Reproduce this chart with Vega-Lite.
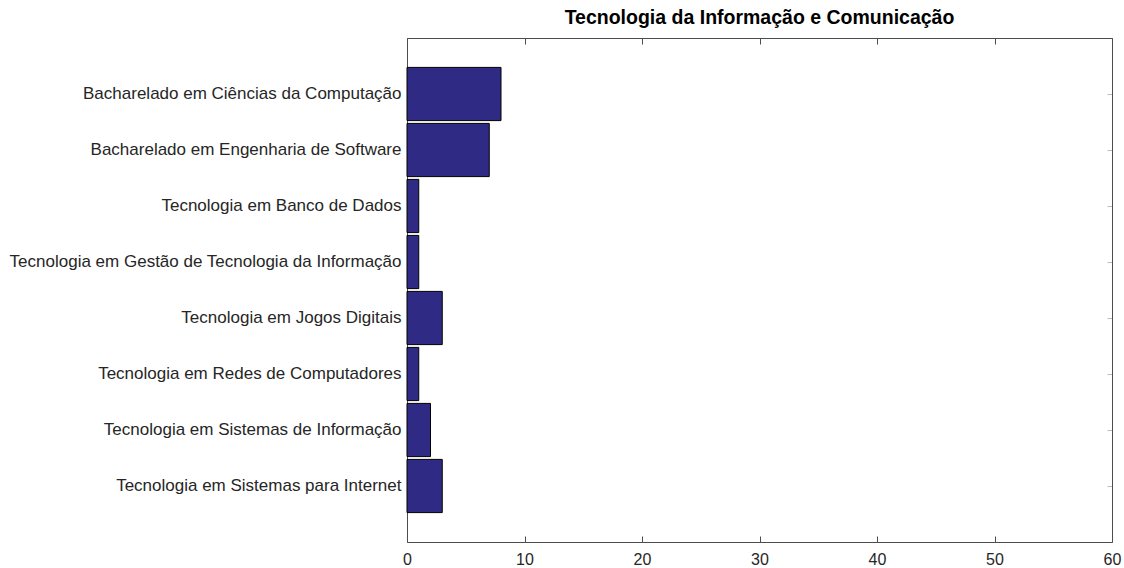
{
  "$schema": "https://vega.github.io/schema/vega-lite/v6.json",
  "width": 705,
  "height": 504,
  "autosize": "none",
  "padding": {"left": 407, "top": 38, "right": 12, "bottom": 26},
  "background": "white",
  "title": {"text": "Tecnologia da Informação e Comunicação", "font": "Liberation Sans", "fontSize": 19.5, "fontWeight": "bold", "color": "#000000", "anchor": "middle", "offset": 9},
  "config": {"view": {"stroke": null}},
  "data": {"values": [
    {"curso": "Bacharelado em Ciências da Computação", "n": 8},
    {"curso": "Bacharelado em Engenharia de Software", "n": 7},
    {"curso": "Tecnologia em Banco de Dados", "n": 1},
    {"curso": "Tecnologia em Gestão de Tecnologia da Informação", "n": 1},
    {"curso": "Tecnologia em Jogos Digitais", "n": 3},
    {"curso": "Tecnologia em Redes de Computadores", "n": 1},
    {"curso": "Tecnologia em Sistemas de Informação", "n": 2},
    {"curso": "Tecnologia em Sistemas para Internet", "n": 3}
  ]},
  "resolve": {"axis": {"x": "independent", "y": "independent"}},
  "layer": [
    {
      "mark": {"type": "bar", "color": "#2f2a84", "stroke": "#000000", "strokeWidth": 1},
      "encoding": {
        "y": {"field": "curso", "type": "nominal", "sort": null,
              "scale": {"paddingInner": 0.05, "paddingOuter": 0.525},
              "axis": {"title": null, "orient": "left", "ticks": false, "labelPadding": 6, "labelFont": "Liberation Sans", "labelFontSize": 17, "labelColor": "#262626", "labelLimit": 500, "domainColor": "#4d4d4d", "domainWidth": 1}},
        "x": {"field": "n", "type": "quantitative",
              "scale": {"domain": [0, 60], "nice": false},
              "axis": {"title": null, "orient": "bottom", "values": [0, 10, 20, 30, 40, 50, 60], "tickSize": -6, "tickColor": "#4d4d4d", "labelPadding": 15, "labelFont": "Liberation Sans", "labelFontSize": 16, "labelColor": "#262626", "domainColor": "#4d4d4d", "grid": false, "labelFlush": false}}
      }
    },
    {
      "mark": {"type": "bar", "opacity": 0},
      "encoding": {
        "y": {"field": "curso", "type": "nominal", "sort": null,
              "axis": {"title": null, "orient": "right", "labels": false, "tickSize": -5, "tickColor": "#bbbbbb", "domainColor": "#4d4d4d"}},
        "x": {"field": "n", "type": "quantitative",
              "axis": {"title": null, "orient": "top", "labels": false, "values": [0, 10, 20, 30, 40, 50, 60], "tickSize": -6, "tickColor": "#4d4d4d", "domainColor": "#4d4d4d", "grid": false}}
      }
    }
  ]
}
